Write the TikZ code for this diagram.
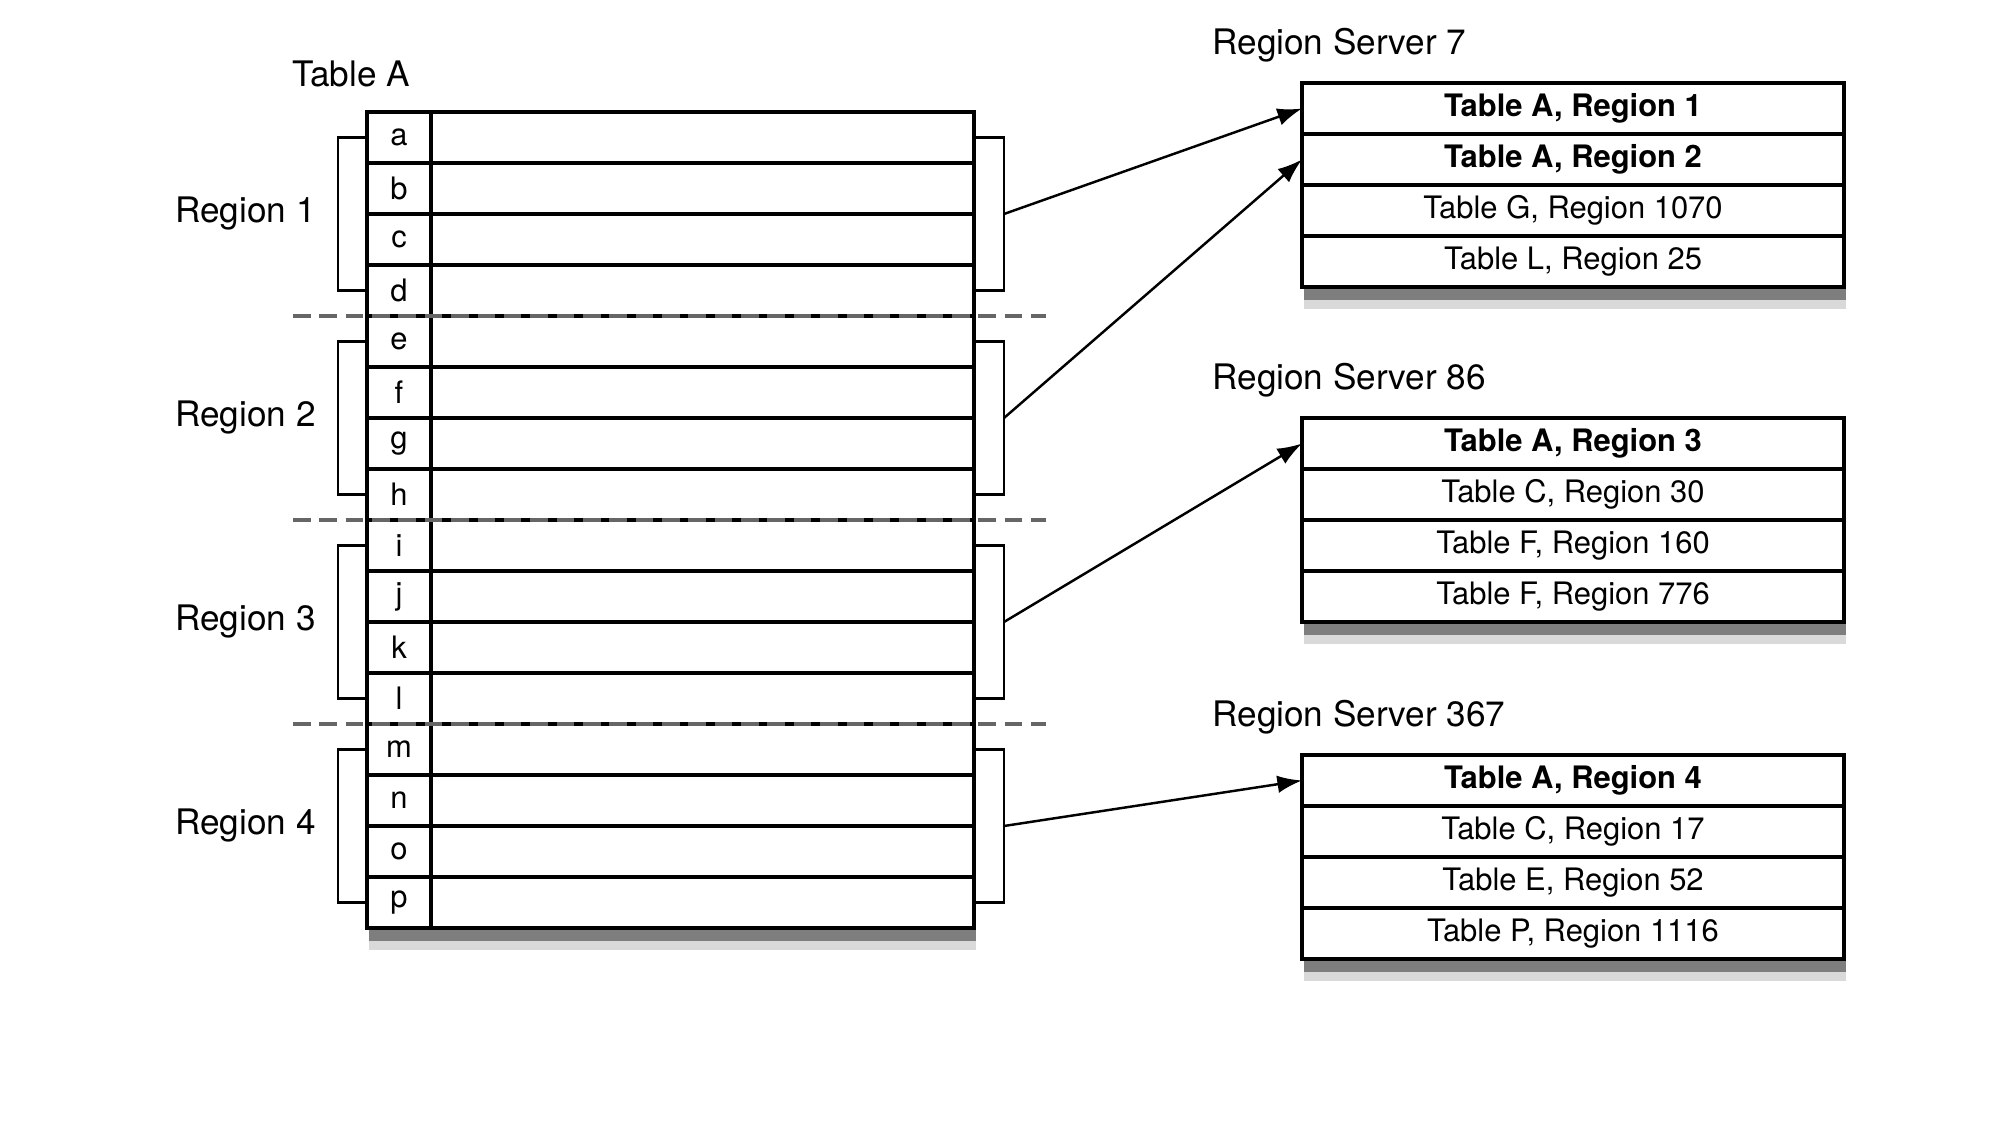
\documentclass[tikz,border=0pt]{standalone}
\usepackage{fontspec}
\setmainfont{TeX Gyre Heros}
\usetikzlibrary{positioning,shadows,backgrounds,arrows.meta}

\tikzset{
	cellfont/.style={font=\fontsize{8.8}{10}\selectfont},
	keycell/.style={draw, cellfont, line width=0.9pt, outer sep=0pt, inner sep=0pt,
		minimum width=0.64cm, minimum height=0.51cm},
	valcell/.style={draw, line width=0.9pt, outer sep=0pt, inner sep=0pt,
		minimum width=5.43cm, minimum height=0.51cm},
	srvcell/.style={draw, cellfont, line width=0.9pt, outer sep=0pt, inner sep=0pt,
		minimum width=5.42cm, minimum height=0.51cm},
	cut/.style={draw=black!60, line width=1.2pt, dash pattern=on 5pt off 2.5pt},
	brace/.style={line width=0.8pt},
	link/.style={line width=0.7pt, -{Latex[length=7pt,width=5pt]}},
	shade/.style={fill=white,
		drop shadow={shadow xshift=0.2mm, shadow yshift=-2.2mm, opacity=0.15, fill=black},
		drop shadow={shadow xshift=0.2mm, shadow yshift=-1.3mm, opacity=0.55, fill=black!80}},
	lbl/.style={font=\fontsize{10}{12}\selectfont}
}

\begin{document}
\begin{tikzpicture}
	\useasboundingbox (0,0) rectangle (20,11.25);

	% table A, one row per key
	\node[lbl] (tabA) at (3.51,10.51) {Table A};
	\foreach \k [count=\i] in {a,...,p} {
		\node[keycell] (key-\k) at (3.99,{10.385-0.51*\i}) {\k};
		\node[valcell, right=0pt of key-\k] (val-\k) {};
	}

	% region brackets
	\foreach \first/\mid/\last [count=\r] in {a/b/d, e/f/h, i/j/l, m/n/p} {
		\draw[brace] (key-\first.west) -- ++(-0.29,0) |- (key-\last.west);
		\draw[brace] (val-\first.east) -- ++(0.3,0) |- (val-\last.east);
		\path (key-\mid.south west) ++(-0.29,0) coordinate (lb\r);
		\path (val-\mid.south east) ++(0.3,0) coordinate (rb\r);
		\node[lbl, left=1mm of lb\r] (reg\r) {Region \r};
	}

	% region boundaries
	\foreach \k in {d,h,l}
		\draw[cut] ([xshift=-7.4mm]key-\k.south west) -- ([xshift=7.2mm]val-\k.south east);

	% region servers
	\node[lbl, anchor=west] (rs7) at (12.0,10.80) {Region Server 7};
	\node[srvcell] (s7-1) at (15.73,10.165) {\textbf{Table A, Region 1}};
	\node[srvcell, below=0pt of s7-1] (s7-2) {\textbf{Table A, Region 2}};
	\node[srvcell, below=0pt of s7-2] (s7-3) {Table G, Region 1070};
	\node[srvcell, below=0pt of s7-3] (s7-4) {Table L, Region 25};

	\node[lbl, anchor=west] (rs86) at (12.0,7.45) {Region Server 86};
	\node[srvcell] (s86-1) at (15.73,6.815) {\textbf{Table A, Region 3}};
	\node[srvcell, below=0pt of s86-1] (s86-2) {Table C, Region 30};
	\node[srvcell, below=0pt of s86-2] (s86-3) {Table F, Region 160};
	\node[srvcell, below=0pt of s86-3] (s86-4) {Table F, Region 776};

	\node[lbl, anchor=west] (rs367) at (12.0,4.08) {Region Server 367};
	\node[srvcell] (s367-1) at (15.73,3.445) {\textbf{Table A, Region 4}};
	\node[srvcell, below=0pt of s367-1] (s367-2) {Table C, Region 17};
	\node[srvcell, below=0pt of s367-2] (s367-3) {Table E, Region 52};
	\node[srvcell, below=0pt of s367-3] (s367-4) {Table P, Region 1116};

	% shadows
	\begin{scope}[on background layer]
		\path[shade] (key-a.north west) rectangle (val-p.south east);
		\path[shade] (s7-1.north west) rectangle (s7-4.south east);
		\path[shade] (s86-1.north west) rectangle (s86-4.south east);
		\path[shade] (s367-1.north west) rectangle (s367-4.south east);
	\end{scope}

	\draw[link] (rb1) -- (s7-1.west);
	\draw[link] (rb2) -- (s7-2.west);
	\draw[link] (rb3) -- (s86-1.west);
	\draw[link] (rb4) -- (s367-1.west);
\end{tikzpicture}
\end{document}
